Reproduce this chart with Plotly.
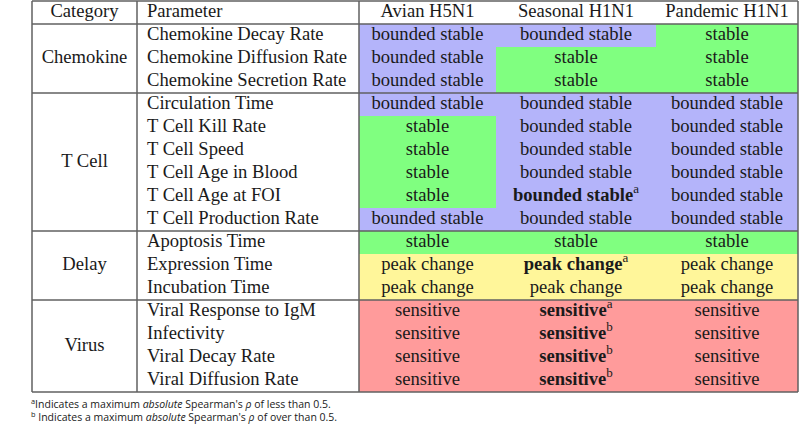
import plotly.graph_objects as go

# ---------------- data ----------------
headers = ["Category", "Parameter", "Avian H5N1", "Seasonal H1N1", "Pandemic H1N1"]
categories = ["Chemokine", "T Cell", "Delay", "Virus"]
category_sizes = [3, 6, 3, 4]
parameters = [
    "Chemokine Decay Rate", "Chemokine Diffusion Rate", "Chemokine Secretion Rate",
    "Circulation Time", "T Cell Kill Rate", "T Cell Speed", "T Cell Age in Blood",
    "T Cell Age at FOI", "T Cell Production Rate",
    "Apoptosis Time", "Expression Time", "Incubation Time",
    "Viral Response to IgM", "Infectivity", "Viral Decay Rate", "Viral Diffusion Rate",
]
avian = [
    "bounded stable", "bounded stable", "bounded stable",
    "bounded stable", "stable", "stable", "stable", "stable", "bounded stable",
    "stable", "peak change", "peak change",
    "sensitive", "sensitive", "sensitive", "sensitive",
]
seasonal = [
    "bounded stable", "stable", "stable",
    "bounded stable", "bounded stable", "bounded stable", "bounded stable",
    "bounded stable", "bounded stable",
    "stable", "peak change", "peak change",
    "sensitive", "sensitive", "sensitive", "sensitive",
]
seasonal_notes = ["", "", "", "", "", "", "", "a", "", "", "a", "", "a", "b", "b", "b"]
pandemic = [
    "stable", "stable", "stable",
    "bounded stable", "bounded stable", "bounded stable", "bounded stable",
    "bounded stable", "bounded stable",
    "stable", "peak change", "peak change",
    "sensitive", "sensitive", "sensitive", "sensitive",
]
footnotes = [
    "<sup>a</sup>Indicates a maximum <i>absolute</i> Spearman's <i>\u03c1</i> of less than 0.5.",
    "<sup>b</sup> Indicates a maximum <i>absolute</i> Spearman's <i>\u03c1</i> of over than 0.5.",
]

# ---------------- layout constants ----------------
W, H = 800, 444
col_edges = [32, 137, 359, 496, 656, 798]
top = 1
header_h = 23
row_h = 23
status_order = ["bounded stable", "stable", "peak change", "sensitive"]
status_colors = ["#b4b4fa", "#80ff80", "#fff69a", "#ff9b9b"]
line_color = "#606060"
text_color = "#1a1a1a"
serif = "Liberation Serif"
fs = 18.6

n = len(parameters)
row_edges = [top + header_h + i * row_h for i in range(n + 1)]
row_centers = [(row_edges[i] + row_edges[i + 1]) / 2 for i in range(n)]
value_cols = [avian, seasonal, pandemic]

# heatmap colours
z = [[status_order.index(col[r]) for col in value_cols] for r in range(n)]
k = len(status_order)
colorscale = []
for i, c in enumerate(status_colors):
    colorscale.append([i / k, c])
    colorscale.append([(i + 1) / k, c])

fig = go.Figure()
fig.add_trace(go.Heatmap(
    z=z, x=col_edges[2:], y=row_edges, colorscale=colorscale,
    zmin=-0.5, zmax=k - 0.5, showscale=False, hoverinfo="skip",
))

# cell texts
xs, ys, ts = [], [], []
for ci, col in enumerate(value_cols):
    cx = (col_edges[ci + 2] + col_edges[ci + 3]) / 2
    for r in range(n):
        t = col[r]
        if ci == 1 and seasonal_notes[r]:
            t = "<b>%s</b><sup>%s</sup>" % (t, seasonal_notes[r])
        xs.append(cx)
        ys.append(row_centers[r])
        ts.append(t)
# header (centered ones)
for i, h in enumerate(headers):
    if i == 1:
        continue
    xs.append((col_edges[i] + col_edges[i + 1]) / 2)
    ys.append(top + header_h / 2)
    ts.append(h)
# categories
start = 0
for cat, size in zip(categories, category_sizes):
    xs.append((col_edges[0] + col_edges[1]) / 2)
    ys.append((row_edges[start] + row_edges[start + size]) / 2)
    ts.append(cat)
    start += size

fig.add_trace(go.Scatter(
    x=xs, y=ys, text=ts, mode="text", textposition="middle center",
    textfont=dict(family=serif, size=fs, color=text_color), hoverinfo="skip",
))

# parameter column (left aligned)
px = col_edges[1] + 10
fig.add_trace(go.Scatter(
    x=[px] * (n + 1), y=[top + header_h / 2] + row_centers,
    text=[headers[1]] + parameters, mode="text", textposition="middle right",
    textfont=dict(family=serif, size=fs, color=text_color), hoverinfo="skip",
))

# lines
shapes = []
def hline(y):
    shapes.append(dict(type="line", xref="x", yref="y", x0=col_edges[0], x1=col_edges[-1],
                       y0=y, y1=y, line=dict(color=line_color, width=1.5)))
def vline(x):
    shapes.append(dict(type="line", xref="x", yref="y", x0=x, x1=x,
                       y0=top, y1=row_edges[-1], line=dict(color=line_color, width=1.5)))
hline(top)
hline(row_edges[0])
start = 0
for size in category_sizes:
    start += size
    hline(row_edges[start])
for x in (col_edges[0], col_edges[1], col_edges[2], col_edges[-1]):
    vline(x)

annotations = []
for i, fn in enumerate(footnotes):
    annotations.append(dict(
        x=29, y=403 + i * 13, xref="x", yref="y", text=fn, showarrow=False,
        xanchor="left", yanchor="middle",
        font=dict(family="Open Sans", size=10.5, color=text_color),
    ))

fig.update_layout(
    width=W, height=H, margin=dict(l=0, r=0, t=0, b=0),
    paper_bgcolor="white", plot_bgcolor="white", showlegend=False,
    xaxis=dict(range=[0, W], visible=False, fixedrange=True),
    yaxis=dict(range=[H, 0], visible=False, fixedrange=True),
    shapes=shapes, annotations=annotations,
)
fig.write_html("out.html", config={"displayModeBar": False},
               post_script="document.body.style.margin='0';document.body.style.overflow='hidden';")
